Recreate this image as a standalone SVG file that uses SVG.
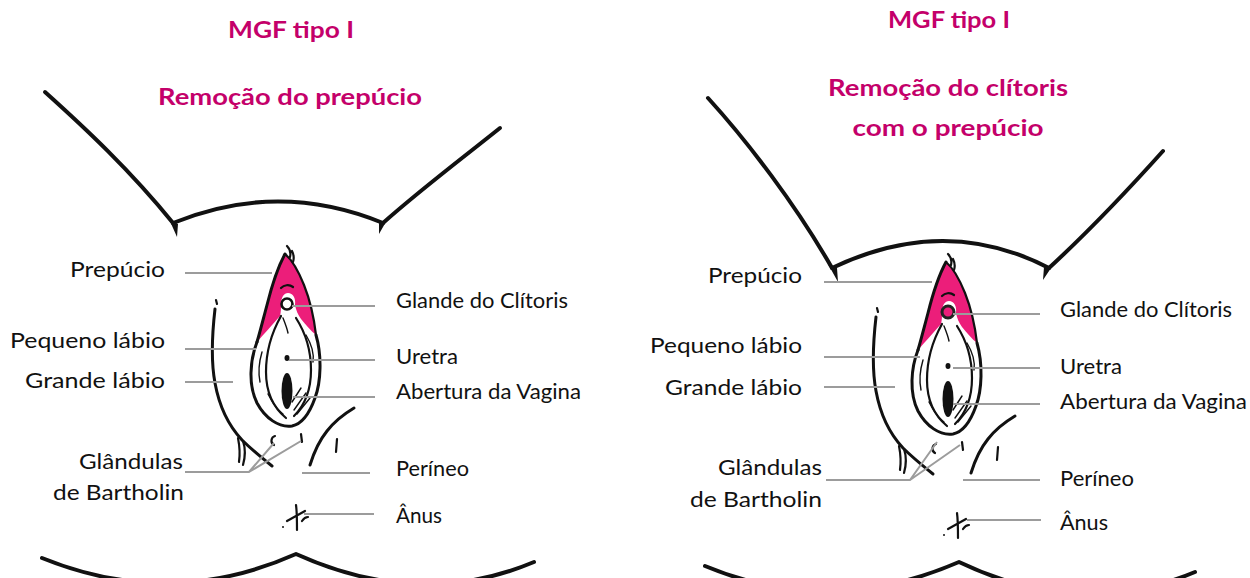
<svg xmlns="http://www.w3.org/2000/svg" xmlns:xlink="http://www.w3.org/1999/xlink" width="1250" height="578" viewBox="0 0 1250 578">
  <style>
    .title { font-family: Lato, "Open Sans", "Liberation Sans", sans-serif; font-weight: 700; font-size: 23px; fill: #c4006a; text-anchor: middle; }
    .lbl { font-family: Lato, "Open Sans", "Liberation Sans", sans-serif; font-size: 22px; fill: #111; }
    .lbl.r { text-anchor: end; }
    .ink { fill: none; stroke: #111; stroke-linecap: round; stroke-linejoin: round; }
    .body { fill: none; stroke: #111; stroke-width: 4; stroke-linecap: round; stroke-linejoin: round; }
    .thin { stroke-width: 1.4; }
    .mid { stroke-width: 2.2; }
    .thick { stroke-width: 3; }
    .lead { fill: none; stroke: #9c9c9c; stroke-width: 2; }
    .pink { fill: #ec1e7a; }
  </style>

  <defs>
    <!-- shared vulva drawing, drawn at the left panel position -->
    <g id="vulva">
      <!-- preputial hood (pink) -->
      <path class="pink" d="M285,254 C279,265 272,285 267,305 C263,320 260,332 257,342 C264,334 272,325 280,316 C281,312 281,308 281,305 C281,297 284,293 288,293 C293,293 296,298 295,305 C296,310 298,315 301,319 C306,325 311,331 316,335 C314,318 310,300 304,285 C298,270 291,259 285,254 Z"/>
      <path class="ink thick" d="M285,254 C279,265 272,285 267,305 C263,320 260,332 257,342"/>
      <path class="ink mid" d="M285,254 C291,259 298,270 304,285 C310,300 314,318 316,335"/>
      <path class="ink mid" d="M287,246 C290,249 291,253 290,257 M292,251 C294,255 294,259 293,262"/>
      <path class="ink mid" d="M281,288 C284,285 289,284 293,287"/>
      <!-- labia minora -->
      <path class="ink thick" d="M257,342 C250,360 248,385 257,403 C265,418 279,428 292,426 C302,424 310,412 315,398 C321,382 322,356 316,335"/>
      <path class="ink mid" d="M281,316 C272,332 266,352 266,372 C266,392 274,408 286,418"/>
      <path class="ink mid" d="M296,318 C305,332 311,350 311,370 C311,390 304,406 294,416"/>
      <path class="ink thin" d="M262,352 C259,362 258,372 260,382 M306,335 C312,345 314,355 313,362 M268,394 C272,402 276,409 283,414 M283,318 C285,323 287,328 288,333"/>
      <path class="ink thin" d="M292,402 L301,388 M294,410 L306,393 M297,414 L310,398"/>
      <!-- urethra and vaginal opening -->
      <ellipse cx="287" cy="358" rx="2.5" ry="3" fill="#111"/>
      <ellipse cx="287" cy="391" rx="5.5" ry="18" fill="#111"/>
      <!-- labia majora -->
      <path class="ink mid" d="M216,300 L217,304"/>
      <path class="ink thick" d="M215,309 C212,335 211,362 215,383 C219,405 228,425 242,440 C252,450 262,458 272,466"/>
      <path class="ink thick" d="M354,408 C344,414 334,422 327,431 C319,441 314,452 310,465"/>
      <path class="ink mid" d="M337,439 L336,452"/>
      <!-- hair and Bartholin gland marks -->
      <path class="ink mid" d="M238,438 C240,448 240,455 239,462 M243,441 C246,450 245,458 243,465"/>
      <path class="ink mid" d="M275,436 C271,437 270,443 274,445 M301,434 L302,442"/>
      <!-- anus -->
      <path class="ink mid" d="M296,505 C297,512 297,520 297,530 M287,521 L305,511 M302,521 C304,518 306,517 308,517"/>
      <circle cx="283" cy="527" r="1" fill="#111"/>
    </g>
  </defs>

  <!-- left panel -->
  <g id="panel-left">
    <g id="title-left">
      <text class="title" x="291" y="38" textLength="126" lengthAdjust="spacingAndGlyphs">MGF tipo I</text>
      <text class="title" x="290" y="105" textLength="264" lengthAdjust="spacingAndGlyphs">Remoção do prepúcio</text>
    </g>
    <g id="body-left">
      <path class="body" d="M45,92 C85,128 130,170 173,223"/>
      <path class="body" d="M173,223 Q278,180 383,223"/>
      <path class="body" d="M383,223 C420,190 460,160 500,128"/>
      <path d="M169,219 L177,237 L178,224 Z M387,220 L379,234 L379,222 Z" fill="#111"/>
      <path class="body" d="M42,558 Q170,610 296,554 Q420,610 534,562"/>
    </g>
    <g id="anatomy-left">
      <use xlink:href="#vulva"/>
      <circle cx="287" cy="304" r="5.5" fill="#fff" stroke="#111" stroke-width="2.6"/>
    </g>
  </g>

  <!-- right panel -->
  <g id="panel-right">
    <g id="title-right">
      <text class="title" x="949" y="28" textLength="122" lengthAdjust="spacingAndGlyphs">MGF tipo I</text>
      <text class="title" x="948" y="96" textLength="240" lengthAdjust="spacingAndGlyphs">Remoção do clítoris</text>
      <text class="title" x="948" y="136" textLength="191" lengthAdjust="spacingAndGlyphs">com o prepúcio</text>
    </g>
    <g id="body-right">
      <path class="body" d="M708,98 C748,142 796,205 832,268"/>
      <path class="body" d="M832,268 Q945,214 1049,268"/>
      <path class="body" d="M1049,268 C1088,232 1128,190 1163,151"/>
      <path d="M828,264 L838,282 L837,268 Z M1053,265 L1043,280 L1044,267 Z" fill="#111"/>
      <path class="body" d="M705,566 Q830,618 959,562 Q1080,620 1195,572"/>
    </g>
    <g id="anatomy-right">
      <use xlink:href="#vulva" transform="translate(661,8)"/>
      <circle cx="948" cy="312" r="6" fill="#ec1e7a" stroke="#222" stroke-width="3"/>
    </g>
  </g>

  <!-- leader lines -->
  <g id="connectors">
    <path class="lead" d="M185,273 H272 M292,306 H375 M185,349 H256 M289,360 H375 M185,382 H233 M293,397 H375 M302,473 H370 M304,514 H374 M185,472 H249 L274,443 M249,472 L301,441"/>
    <path class="lead" d="M824,282 H932 M953,314 H1040 M824,357 H920 M953,368 H1040 M824,387 H895 M953,404 H1040 M963,480 H1040 M967,520 H1041 M826,480 H910 L937,442 M910,480 L960,445"/>
  </g>

  <!-- labels, left panel -->
  <g id="labels-left">
    <text class="lbl r" x="165" y="277" textLength="95" lengthAdjust="spacingAndGlyphs">Prepúcio</text>
    <text class="lbl r" x="165" y="348" textLength="155" lengthAdjust="spacingAndGlyphs">Pequeno lábio</text>
    <text class="lbl r" x="165" y="388" textLength="140" lengthAdjust="spacingAndGlyphs">Grande lábio</text>
    <text class="lbl r" x="183" y="469" textLength="104" lengthAdjust="spacingAndGlyphs">Glândulas</text>
    <text class="lbl r" x="184" y="500" textLength="131" lengthAdjust="spacingAndGlyphs">de Bartholin</text>
    <text class="lbl" x="396" y="308" textLength="172" lengthAdjust="spacingAndGlyphs">Glande do Clítoris</text>
    <text class="lbl" x="396" y="364" textLength="62" lengthAdjust="spacingAndGlyphs">Uretra</text>
    <text class="lbl" x="396" y="399" textLength="185" lengthAdjust="spacingAndGlyphs">Abertura da Vagina</text>
    <text class="lbl" x="396" y="476" textLength="73" lengthAdjust="spacingAndGlyphs">Períneo</text>
    <text class="lbl" x="396" y="523" textLength="46" lengthAdjust="spacingAndGlyphs">Ânus</text>
  </g>

  <!-- labels, right panel -->
  <g id="labels-right">
    <text class="lbl r" x="802" y="283" textLength="94" lengthAdjust="spacingAndGlyphs">Prepúcio</text>
    <text class="lbl r" x="802" y="353" textLength="152" lengthAdjust="spacingAndGlyphs">Pequeno lábio</text>
    <text class="lbl r" x="802" y="395" textLength="137" lengthAdjust="spacingAndGlyphs">Grande lábio</text>
    <text class="lbl r" x="822" y="475" textLength="104" lengthAdjust="spacingAndGlyphs">Glândulas</text>
    <text class="lbl r" x="822" y="507" textLength="132" lengthAdjust="spacingAndGlyphs">de Bartholin</text>
    <text class="lbl" x="1060" y="317" textLength="172" lengthAdjust="spacingAndGlyphs">Glande do Clítoris</text>
    <text class="lbl" x="1060" y="374" textLength="62" lengthAdjust="spacingAndGlyphs">Uretra</text>
    <text class="lbl" x="1060" y="409" textLength="187" lengthAdjust="spacingAndGlyphs">Abertura da Vagina</text>
    <text class="lbl" x="1060" y="486" textLength="74" lengthAdjust="spacingAndGlyphs">Períneo</text>
    <text class="lbl" x="1060" y="530" textLength="48" lengthAdjust="spacingAndGlyphs">Ânus</text>
  </g>
</svg>
